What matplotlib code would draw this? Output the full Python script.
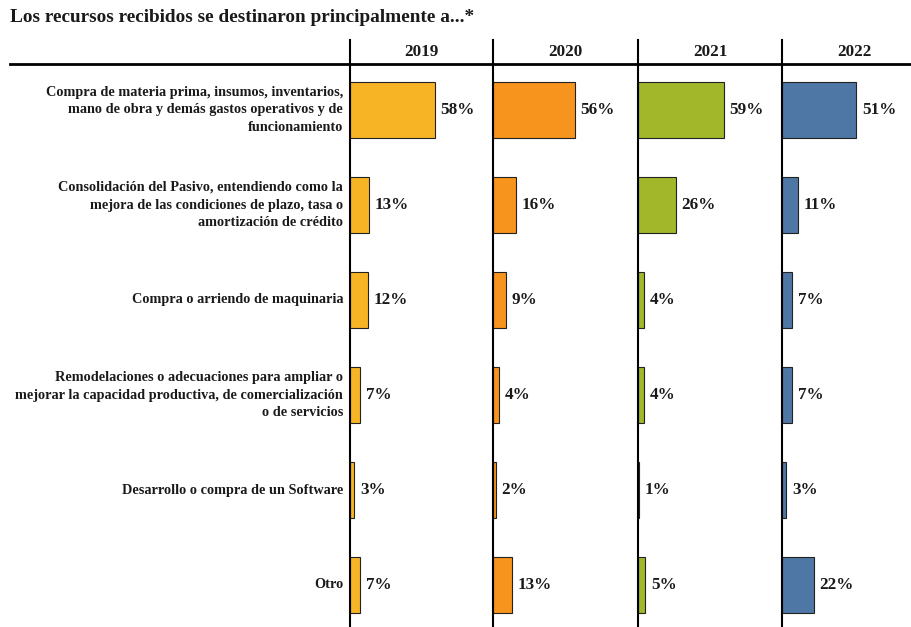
import matplotlib.pyplot as plt
from matplotlib.lines import Line2D

plt.rcParams['font.family'] = ['Liberation Serif', 'DejaVu Serif']

years = ['2019', '2020', '2021', '2022']
categories = [
    'Compra de materia prima, insumos, inventarios,\nmano de obra y demás gastos operativos y de\nfuncionamiento',
    'Consolidación del Pasivo, entendiendo como la\nmejora de las condiciones de plazo, tasa o\namortización de crédito',
    'Compra o arriendo de maquinaria',
    'Remodelaciones o adecuaciones para ampliar o\nmejorar la capacidad productiva, de comercialización\no de servicios',
    'Desarrollo o compra de un Software',
    'Otro',
]
v2019 = [58, 13, 12, 7, 3, 7]
v2020 = [56, 16, 9, 4, 2, 13]
v2021 = [59, 26, 4, 4, 1, 5]
v2022 = [51, 11, 7, 7, 3, 22]
values = [v2019, v2020, v2021, v2022]
colors = ['#F7B526', '#F7941D', '#A3B72A', '#4E77A5']

W, H = 912, 627
fig = plt.figure(figsize=(W / 100, H / 100), dpi=100)

# panel geometry in pixels
lefts = [350, 493, 638, 782]
rights = [493, 638, 782, 926]
px_per_pct = 1.46
top_px, bot_px = 40, 627
row0, row_step = 110, 95

axes = []
for k in range(4):
    l, r = lefts[k], rights[k]
    ax = fig.add_axes([l / W, 1 - bot_px / H, (r - l) / W, (bot_px - top_px) / H])
    ax.set_xlim(0, (r - l) / px_per_pct)
    ax.set_ylim(5 + (bot_px - row0 - 5 * row_step) / row_step, -(row0 - top_px) / row_step)
    ax.barh(range(6), values[k], height=0.59, color=colors[k], edgecolor='#222222', linewidth=0.8)
    for i, v in enumerate(values[k]):
        ax.annotate(f'{v}%', (v, i), xytext=(4, 0), textcoords='offset points',
                    va='center', ha='left', fontsize=12.3, fontweight='bold', color='#1a1a1a')
    ax.text(0.5, (52 - row0) / row_step, years[k], transform=ax.get_yaxis_transform(),
            ha='center', va='center', fontsize=12.3, fontweight='bold', color='#1a1a1a')
    for s in ['top', 'right', 'bottom']:
        ax.spines[s].set_visible(False)
    ax.spines['left'].set_linewidth(1.5)
    ax.set_xticks([])
    ax.set_yticks([])
    ax.patch.set_alpha(0)
    axes.append(ax)

for i, c in enumerate(categories):
    axes[0].annotate(c, (0, i), xytext=(-5, 0), textcoords='offset points',
                     ha='right', va='center', fontsize=10.3, fontweight='bold', color='#1a1a1a',
                     multialignment='right', linespacing=1.45, annotation_clip=False)

fig.add_artist(Line2D([10 / W, 1], [1 - 64 / H, 1 - 64 / H], color='black', linewidth=2))
fig.text(10 / W, 1 - 18 / H, 'Los recursos recibidos se destinaron principalmente a...*',
         ha='left', va='center', fontsize=13.9, fontweight='bold', color='#1a1a1a')

fig.savefig('out.png', dpi=100)
